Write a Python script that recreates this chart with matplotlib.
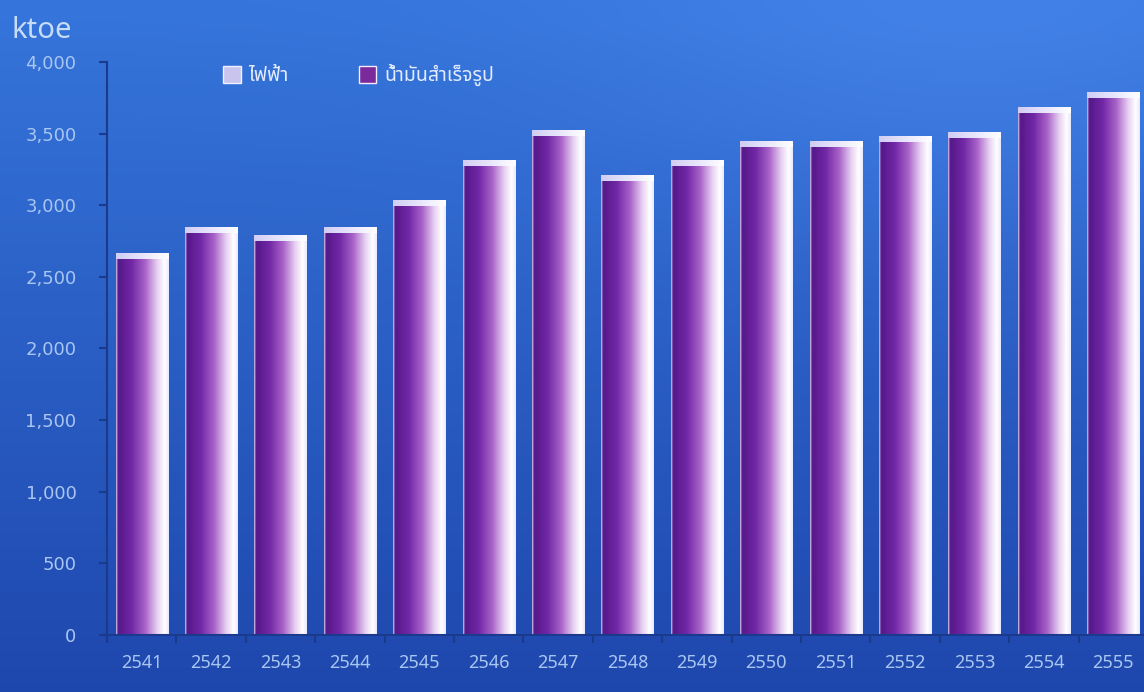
import matplotlib
matplotlib.use('Agg')
import matplotlib.pyplot as plt
from matplotlib import font_manager
from matplotlib.colors import LinearSegmentedColormap
from matplotlib.patches import Patch
import numpy as np

# data (ktoe)
years = ['2541', '2542', '2543', '2544', '2545', '2546', '2547', '2548',
         '2549', '2550', '2551', '2552', '2553', '2554', '2555']
oil = [2627, 2808, 2752, 2808, 2997, 3276, 3485, 3171,
       3276, 3408, 3408, 3443, 3471, 3646, 3751]
elec = [40, 40, 40, 40, 40, 40, 40, 40, 40, 40, 40, 40, 40, 40, 40]
yticks = [0, 500, 1000, 1500, 2000, 2500, 3000, 3500, 4000]

# pick a font that has Thai glyphs
names = set(f.name for f in font_manager.fontManager.ttflist)
thai_font = 'DejaVu Sans'
for cand in ['Noto Sans Thai', 'Noto Sans Thai Looped', 'Sarabun', 'Loma',
             'Garuda', 'Tlwg Typo', 'Kanit', 'Bai Jamjuree']:
    if cand in names:
        thai_font = cand
        break
num_font = 'Noto Sans' if 'Noto Sans' in names else 'DejaVu Sans'

fig = plt.figure(figsize=(11.44, 6.92), dpi=100)

# blue backdrop
bg = fig.add_axes([0, 0, 1, 1], zorder=-10)
yy, xx = np.mgrid[0:1:200j, 0:1:300j]
top = np.array([0.21, 0.46, 0.86])
bot = np.array([0.12, 0.28, 0.68])
img = top[None, None, :] * (1 - yy[..., None]) + bot[None, None, :] * yy[..., None]
glow = np.exp(-(((xx - 0.85) / 0.35) ** 2 + ((yy - 0.05) / 0.3) ** 2))
img = np.clip(img + 0.05 * glow[..., None], 0, 1)
bg.imshow(img, aspect='auto', extent=[0, 1, 0, 1], origin='upper')
bg.axis('off')

ax = fig.add_axes([107 / 1144, 57 / 692, 1041 / 1144, 573 / 692])
ax.patch.set_alpha(0)

x = np.arange(len(years))
width = 0.75
b1 = ax.bar(x, oil, width, color='#7a2aa8', zorder=2, label='น้ำมันสำเร็จรูป')
b2 = ax.bar(x, elec, width, bottom=oil, color='#e8e4fb', zorder=2, label='ไฟฟ้า')

bar_cmap = LinearSegmentedColormap.from_list('barg', [
    (0.0, '#d8c8f0'), (0.04, '#55188a'), (0.30, '#7228a6'), (0.55, '#a862c8'),
    (0.78, '#e8d0f2'), (0.92, '#ffffff'), (1.0, '#e8e8ff')])
cap_cmap = LinearSegmentedColormap.from_list('capg', [
    (0.0, '#d0ccf4'), (0.5, '#e8e6fc'), (1.0, '#ffffff')])
grad = np.linspace(0, 1, 256)[None, :]
for bars, cm in ((b1, bar_cmap), (b2, cap_cmap)):
    for p in bars:
        x0, y0 = p.get_x(), p.get_y()
        p.set_visible(False)
        ax.imshow(grad, cmap=cm, aspect='auto', zorder=3,
                  extent=[x0, x0 + p.get_width(), y0, y0 + p.get_height()])

ax.set_xlim(-0.5, len(years) - 0.5)
ax.set_ylim(0, 4000)

axis_col = '#1b3a8c'
for s in ['top', 'right']:
    ax.spines[s].set_visible(False)
for s in ['left', 'bottom']:
    ax.spines[s].set_color(axis_col)
    ax.spines[s].set_linewidth(1.5)
    ax.spines[s].set_zorder(4)

lab_col = '#a9c6f2'
ax.set_yticks(yticks)
ax.set_yticklabels(['{:,}'.format(v) for v in yticks], fontsize=13,
                   color=lab_col, family='DejaVu Sans')
ax.set_xticks(x)
ax.set_xticklabels(years, fontsize=13, color=lab_col, family=num_font)
ax.set_xticks(np.arange(-0.5, len(years)), minor=True)
ax.tick_params(axis='x', which='major', length=0, pad=14)
ax.tick_params(axis='x', which='minor', length=6, color=axis_col, width=1.5)
ax.tick_params(axis='y', length=6, color=axis_col, width=1.5, pad=16)

fig.text(12 / 1144, 1 - 30 / 692, 'ktoe', fontsize=21, color='#c8dcf6',
         family=num_font, va='center', ha='left')

handles = [Patch(facecolor='#c8c4ee', edgecolor='#f0f0ff', label='ไฟฟ้า'),
           Patch(facecolor='#7a2a9a', edgecolor='#f4ecff', label='น้ำมันสำเร็จรูป')]
leg = ax.legend(handles=handles, ncol=2, frameon=False, loc='center left',
                bbox_to_anchor=(0.095, 0.977), handlelength=0.9, handleheight=0.9,
                handletextpad=0.4, columnspacing=3.6,
                prop={'family': [thai_font, 'DejaVu Sans'], 'size': 14})
for t in leg.get_texts():
    t.set_color('#e4ecff')

fig.savefig('out.png', dpi=100)
